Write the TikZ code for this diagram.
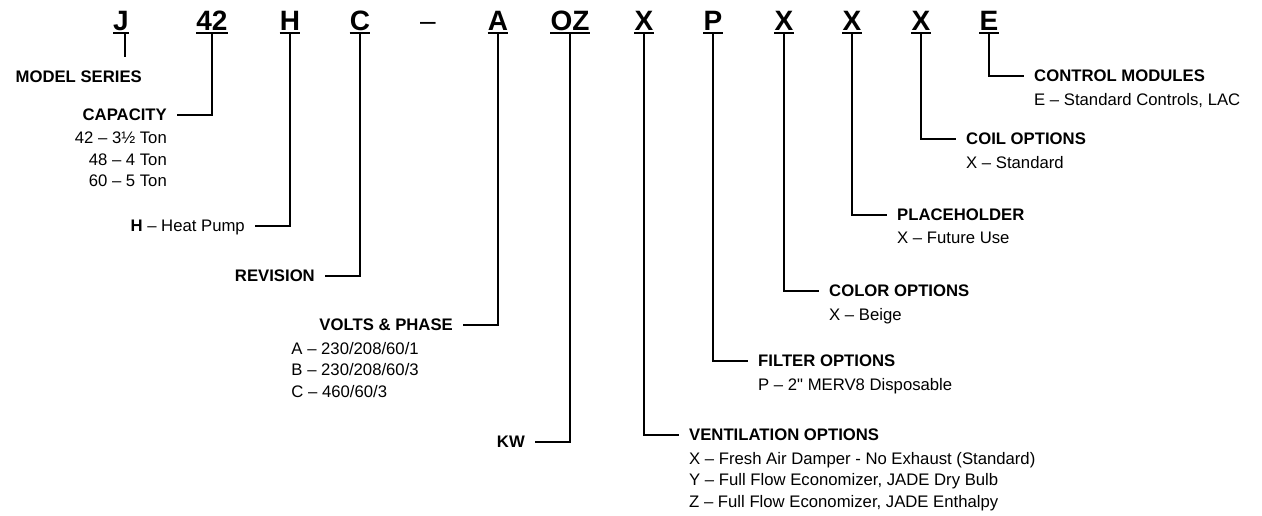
\documentclass[tikz,border=0pt]{standalone}
\usepackage{fontspec}
\setmainfont{Liberation Sans}[Ligatures=TeXOff]
\usetikzlibrary{positioning}

\tikzstyle{code} = [font=\fontsize{28}{28}\selectfont\bfseries, inner sep=0pt, text height=20pt, text depth=0pt]
\tikzstyle{head} = [font=\fontsize{16.7}{21}\selectfont\bfseries, inner sep=0pt, text height=12pt, text depth=0pt]
\tikzstyle{item} = [font=\fontsize{16.7}{21.5}\selectfont, inner sep=0pt]
\tikzstyle{lead} = [line width=2.2pt]
\tikzstyle{uline} = [line width=2pt]

\begin{document}
\begin{tikzpicture}[node distance=35pt]
  \def\arm{35pt}
  \def\gap{10pt}
  \useasboundingbox (0,0) rectangle (1262pt,-515pt);

  % model number
  \node[code] (ser) at (121pt,-20pt) {J};
  \node[code, right of=ser, node distance=91pt] (cap) {42};
  \node[code, right of=cap, node distance=78pt] (typ) {H};
  \node[code, right of=typ, node distance=70pt] (rev) {C};
  \node[code, right of=rev, node distance=68pt, font=\fontsize{28}{28}\selectfont] (dash) {–};
  \node[code, right of=dash, node distance=70pt] (vlt) {A};
  \node[code, right of=vlt, node distance=72pt] (kw) {OZ};
  \node[code, right of=kw, node distance=74pt] (ven) {X};
  \node[code, right of=ven, node distance=69pt] (flt) {P};
  \node[code, right of=flt, node distance=71pt] (col) {X};
  \node[code, right of=col, node distance=68pt] (plc) {X};
  \node[code, right of=plc, node distance=69pt] (coil) {X};
  \node[code, right of=coil, node distance=68pt] (ctl) {E};

  \foreach \n in {ser,cap,typ,rev,vlt,kw,ven,flt,col,plc,coil,ctl}
    \draw[uline] ([yshift=-3pt]\n.base west) -- ([yshift=-3pt]\n.base east);

  % corners
  \node[coordinate, below of=ser, node distance=36.75pt] (ser_p) {};
  \node[coordinate, below of=cap, node distance=94.75pt] (cap_p) {};
  \node[coordinate, below of=typ, node distance=205.75pt] (typ_p) {};
  \node[coordinate, below of=rev, node distance=255.75pt] (rev_p) {};
  \node[coordinate, below of=vlt, node distance=304.75pt] (vlt_p) {};
  \node[coordinate, below of=kw, node distance=421.75pt] (kw_p) {};
  \node[coordinate, below of=ven, node distance=414.75pt] (ven_p) {};
  \node[coordinate, below of=flt, node distance=340.75pt] (flt_p) {};
  \node[coordinate, below of=col, node distance=270.75pt] (col_p) {};
  \node[coordinate, below of=plc, node distance=194.75pt] (plc_p) {};
  \node[coordinate, below of=coil, node distance=118.75pt] (coil_p) {};
  \node[coordinate, below of=ctl, node distance=55.75pt] (ctl_p) {};

  \node[coordinate, left of=cap_p, node distance=\arm] (cap_e) {};
  \node[coordinate, left of=typ_p, node distance=\arm] (typ_e) {};
  \node[coordinate, left of=rev_p, node distance=\arm] (rev_e) {};
  \node[coordinate, left of=vlt_p, node distance=\arm] (vlt_e) {};
  \node[coordinate, left of=kw_p, node distance=\arm] (kw_e) {};
  \node[coordinate, right of=ven_p, node distance=\arm] (ven_e) {};
  \node[coordinate, right of=flt_p, node distance=\arm] (flt_e) {};
  \node[coordinate, right of=col_p, node distance=\arm] (col_e) {};
  \node[coordinate, right of=plc_p, node distance=\arm] (plc_e) {};
  \node[coordinate, right of=coil_p, node distance=\arm] (coil_e) {};
  \node[coordinate, right of=ctl_p, node distance=\arm] (ctl_e) {};

  % labels on the left
  \node[head, anchor=east] (ser_t) at ([xshift=21pt,yshift=-20pt]ser_p) {MODEL SERIES};
  \node[head, left=\gap of cap_e] (cap_t) {CAPACITY};
  \node[item, align=right, below left=11pt and 0pt of cap_t.south east] (cap_v) {42 – 3½ Ton\\48 – 4 Ton\\60 – 5 Ton};
  \node[head, left=\gap of typ_e] (typ_t) {H \mdseries– Heat Pump};
  \node[head, left=\gap of rev_e] (rev_t) {REVISION};
  \node[head, left=\gap of vlt_e] (vlt_t) {VOLTS \& PHASE};
  \node[item, align=left, anchor=north west] (vlt_v) at ([xshift=-28pt,yshift=-11pt]vlt_t.south west) {A – 230/208/60/1\\B – 230/208/60/3\\C – 460/60/3};
  \node[head, left=\gap of kw_e] (kw_t) {KW};

  % labels on the right
  \node[head, right=\gap of ven_e] (ven_t) {VENTILATION OPTIONS};
  \node[item, align=left, below right=11pt and 0pt of ven_t.south west] (ven_v) {X – Fresh Air Damper - No Exhaust (Standard)\\Y – Full Flow Economizer, JADE Dry Bulb\\Z – Full Flow Economizer, JADE Enthalpy};
  \node[head, right=\gap of flt_e] (flt_t) {FILTER OPTIONS};
  \node[item, align=left, below right=11pt and 0pt of flt_t.south west] (flt_v) {P – 2" MERV8 Disposable};
  \node[head, right=\gap of col_e] (col_t) {COLOR OPTIONS};
  \node[item, align=left, below right=11pt and 0pt of col_t.south west] (col_v) {X – Beige};
  \node[head, right=\gap of plc_e] (plc_t) {PLACEHOLDER};
  \node[item, align=left, below right=11pt and 0pt of plc_t.south west] (plc_v) {X – Future Use};
  \node[head, right=\gap of coil_e] (coil_t) {COIL OPTIONS};
  \node[item, align=left, below right=11pt and 0pt of coil_t.south west] (coil_v) {X – Standard};
  \node[head, right=\gap of ctl_e] (ctl_t) {CONTROL MODULES};
  \node[item, align=left, below right=11pt and 0pt of ctl_t.south west] (ctl_v) {E – Standard Controls, LAC};

  \draw[lead] ([xshift=4pt,yshift=-3pt]ser.south) -- ([xshift=4pt]ser_p);
  \draw[lead] ([yshift=-3pt]cap.south) |- (cap_e);
  \draw[lead] ([yshift=-3pt]typ.south) |- (typ_e);
  \draw[lead] ([yshift=-3pt]rev.south) |- (rev_e);
  \draw[lead] ([yshift=-3pt]vlt.south) |- (vlt_e);
  \draw[lead] ([yshift=-3pt]kw.south) |- (kw_e);
  \draw[lead] ([yshift=-3pt]ven.south) |- (ven_e);
  \draw[lead] ([yshift=-3pt]flt.south) |- (flt_e);
  \draw[lead] ([yshift=-3pt]col.south) |- (col_e);
  \draw[lead] ([yshift=-3pt]plc.south) |- (plc_e);
  \draw[lead] ([yshift=-3pt]coil.south) |- (coil_e);
  \draw[lead] ([yshift=-3pt]ctl.south) |- (ctl_e);

\end{tikzpicture}
\end{document}
